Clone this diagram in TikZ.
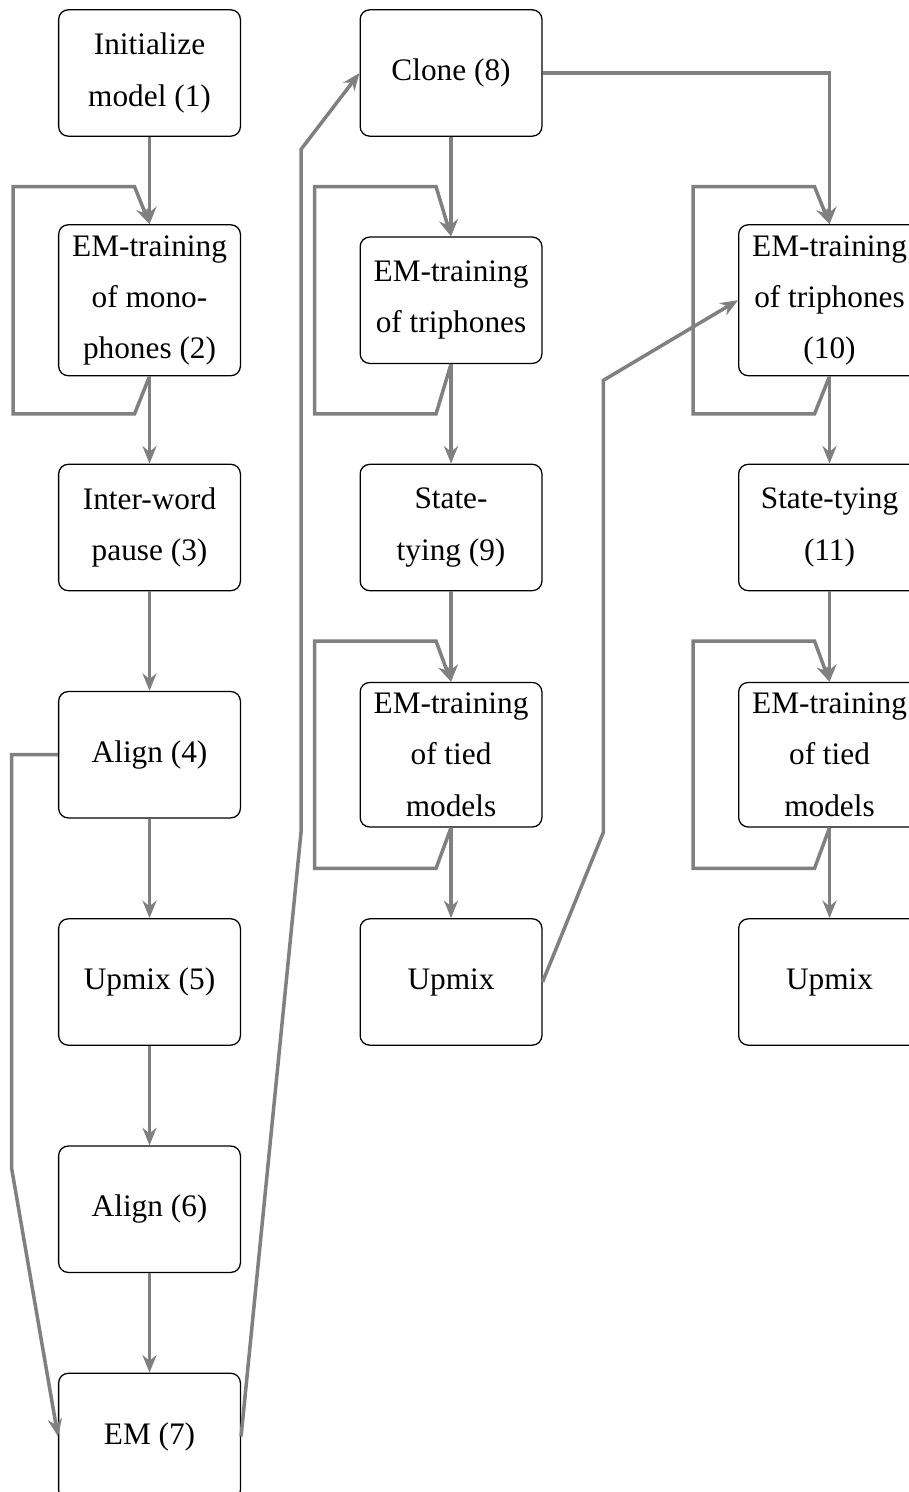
\documentclass[tikz,border=0pt]{standalone}
\usepackage{fontspec}
\setmainfont{Liberation Serif}
\usetikzlibrary{arrows.meta,positioning,calc}

\newcommand{\trainloop}[1]{%
  \draw[arrow] (#1.south) -- ($(#1)+(-0.165,-1.25)$) -| ($(#1)+(-1.5,1.25)$)
    -- ($(#1)+(-0.165,1.25)$) -- (#1.north);}

\begin{document}
\begin{tikzpicture}[
  node distance=2.5cm and 3.317cm, on grid,
  box/.style={rectangle, draw, rounded corners=3pt, minimum width=2cm,
    minimum height=1.39cm, align=center,
    font=\fontsize{9.8}{16}\selectfont},
  arrow/.style={-{Stealth[length=5.5pt, width=4.4pt]}, draw=gray,
    line width=1.1pt},
]
  \useasboundingbox (0,0) rectangle (10,-16.414);

  \node[box] (init) at (1.645,-0.803) {Initialize\\model (1)};
  \node[box, below=of init] (emmono) {EM-training\\of mono-\\phones (2)};
  \node[box, below=of emmono] (pause) {Inter-word\\pause (3)};
  \node[box, below=of pause] (align4) {Align (4)};
  \node[box, below=of align4] (upmix5) {Upmix (5)};
  \node[box, below=of upmix5] (align6) {Align (6)};
  \node[box, below=of align6] (em7) {EM (7)};

  \node[box, right=of init] (clone) {Clone (8)};
  \node[box, below=of clone] (emtri) {EM-training\\of triphones};
  \node[box, below=of emtri] (tying9) {State-\\tying (9)};
  \node[box, below=of tying9] (emtied) {EM-training\\of tied\\models};
  \node[box, below=of emtied] (upmixa) {Upmix};

  \node[box, below right=2.5cm and 4.164cm of clone] (emtri10) {EM-training\\of triphones\\(10)};
  \node[box, below=of emtri10] (tying11) {State-tying\\(11)};
  \node[box, below=of tying11] (emtiedb) {EM-training\\of tied\\models};
  \node[box, below=of emtiedb] (upmixb) {Upmix};

  \draw[arrow] (init) -- (emmono);
  \draw[arrow] (emmono) -- (pause);
  \draw[arrow] (pause) -- (align4);
  \draw[arrow] (align4) -- (upmix5);
  \draw[arrow] (upmix5) -- (align6);
  \draw[arrow] (align6) -- (em7);
  \trainloop{emmono}

  \draw[arrow] (align4.west) -- ++(-0.51,0) -- ++(0,-4.55) -- (em7.west);
  \draw[arrow] (em7.east) -- ++(0.66,6.65) -- ++(0,7.51) -- (clone.west);

  \draw[arrow] (clone) -- (emtri);
  \draw[arrow] (emtri) -- (tying9);
  \draw[arrow] (tying9) -- (emtied);
  \draw[arrow] (emtied) -- (upmixa);
  \trainloop{emtri}
  \trainloop{emtied}

  \draw[arrow] (clone) -| (emtri10);
  \draw[arrow] (upmixa.east) -- ++(0.67,1.65) -- ++(0,4.97) -- (emtri10.west);

  \draw[arrow] (emtri10) -- (tying11);
  \draw[arrow] (tying11) -- (emtiedb);
  \draw[arrow] (emtiedb) -- (upmixb);
  \trainloop{emtri10}
  \trainloop{emtiedb}
\end{tikzpicture}
\end{document}
